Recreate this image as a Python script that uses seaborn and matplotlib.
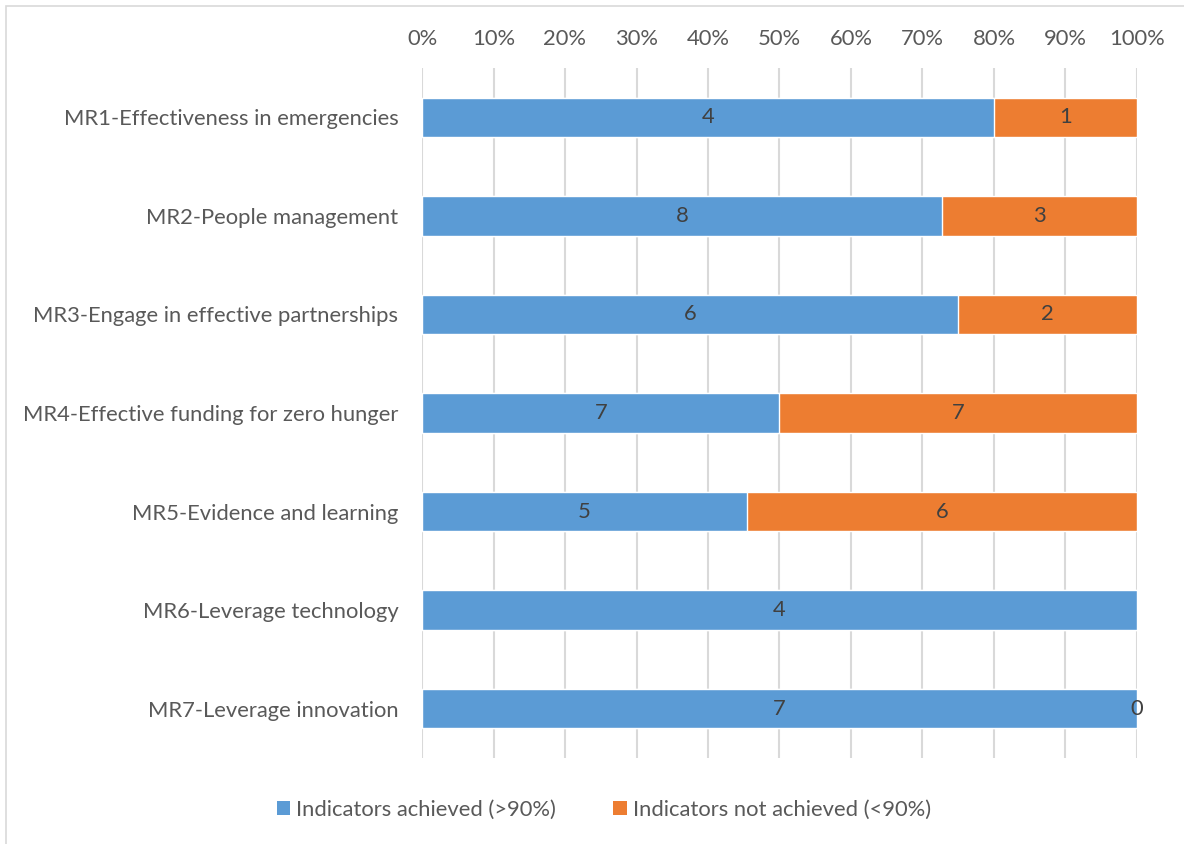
import numpy as np
import pandas as pd
import matplotlib
matplotlib.use("Agg")
import matplotlib.pyplot as plt
import seaborn as sns
from matplotlib.patches import Rectangle, Patch

categories = [
    "MR1-Effectiveness in emergencies",
    "MR2-People management",
    "MR3-Engage in effective partnerships",
    "MR4-Effective funding for zero hunger",
    "MR5-Evidence and learning",
    "MR6-Leverage technology",
    "MR7-Leverage innovation",
]
achieved = [4, 8, 6, 7, 5, 4, 7]
not_achieved = [1, 3, 2, 7, 6, None, 0]
series_names = ["Indicators achieved (>90%)", "Indicators not achieved (<90%)"]
tick_labels = ["0%", "10%", "20%", "30%", "40%", "50%", "60%", "70%", "80%", "90%", "100%"]

BLUE = "#5B9BD5"
ORANGE = "#ED7D31"
TEXT = "#595959"
LABEL = "#404040"
FS = 15.8

sns.set_theme(style="white")
plt.rcParams["font.family"] = ["Lato", "DejaVu Sans"]

na = [0 if v is None else v for v in not_achieved]
tot = [a + b for a, b in zip(achieved, na)]
df = pd.DataFrame({
    "cat": categories,
    "ach_pct": [a / t for a, t in zip(achieved, tot)],
    "total_pct": [1.0] * len(categories),
})

fig = plt.figure(figsize=(11.84, 8.44), dpi=100)
ax = fig.add_axes([422 / 1184, 1 - 758 / 844, (1137 - 422) / 1184, (758 - 68) / 844])

sns.barplot(data=df, y="cat", x="total_pct", color=ORANGE, orient="h", width=0.4,
            saturation=1, ax=ax, zorder=3)
sns.barplot(data=df, y="cat", x="ach_pct", color=BLUE, orient="h", width=0.4,
            saturation=1, ax=ax, zorder=4)

ax.set_xlim(0, 1)
ax.set_ylim(6.5, -0.5)
ax.set_xticks(np.linspace(0, 1, 11))
ax.set_xticklabels(tick_labels)
ax.xaxis.tick_top()
ax.tick_params(axis="x", length=0, pad=14, labelsize=FS, colors=TEXT)
ax.tick_params(axis="y", length=0, pad=17, labelsize=FS, colors=TEXT)
ax.set_xlabel("")
ax.set_ylabel("")
ax.grid(axis="x", color="#D9D9D9", linewidth=1.5, zorder=0)
ax.set_axisbelow(True)
for s in ax.spines.values():
    s.set_visible(False)

for i in range(len(categories)):
    p = df["ach_pct"][i]
    ax.text(p / 2, i, str(achieved[i]), ha="center", va="center", fontsize=FS,
            color=LABEL, zorder=6)
    if not_achieved[i] is not None:
        ax.text(p + (1 - p) / 2, i, str(not_achieved[i]), ha="center", va="center",
                fontsize=FS, color=LABEL, zorder=6)

handles = [Patch(facecolor=BLUE, edgecolor="none"), Patch(facecolor=ORANGE, edgecolor="none")]
fig.legend(handles, series_names, loc="center", bbox_to_anchor=(604 / 1184, 1 - 810 / 844),
           ncol=2, frameon=False, fontsize=FS, labelcolor=TEXT, handlelength=0.6,
           handleheight=0.6, handletextpad=0.3, columnspacing=2.6)

fig.patches.append(Rectangle((6 / 1184, -0.01), 1.02, 1 - 6 / 844 + 0.01,
                             transform=fig.transFigure, fill=False,
                             edgecolor="#D9D9D9", linewidth=1.2))

fig.savefig("out.png", dpi=100)
